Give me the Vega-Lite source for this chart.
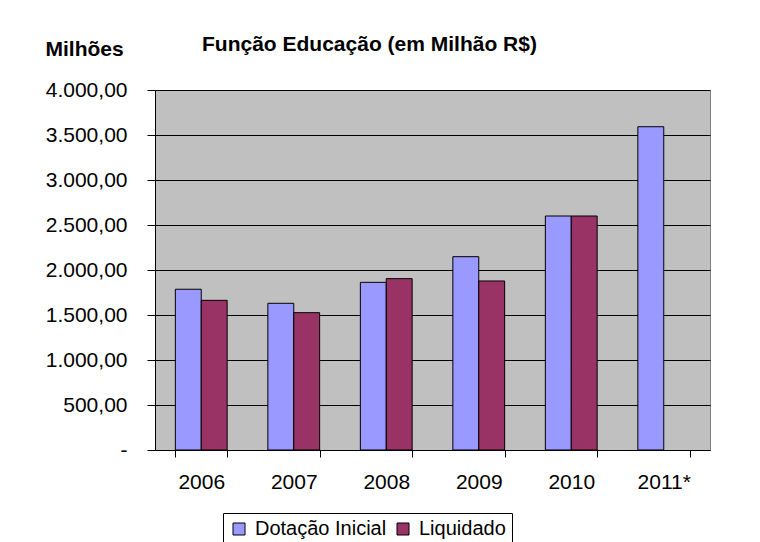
{
  "$schema": "https://vega.github.io/schema/vega-lite/v6.json",
  "width": 555,
  "height": 360,
  "autosize": {"type": "none"},
  "padding": {"left": 155, "top": 90, "right": 50, "bottom": 92},
  "background": "white",
  "config": {
    "locale": {"number": {"decimal": ",", "thousands": ".", "grouping": [3], "currency": ["R$", ""]}},
    "font": "Liberation Sans",
    "view": {"fill": "#C0C0C0", "stroke": "#808080", "strokeWidth": 1}
  },
  "title": {
    "text": "Função Educação (em Milhão R$)",
    "anchor": "start",
    "frame": "group",
    "dx": 47,
    "offset": -34,
    "baseline": "alphabetic",
    "font": "Liberation Sans",
    "fontSize": 21,
    "fontWeight": "bold",
    "color": "black"
  },
  "data": {
    "values": [
      {"ano": "2006", "serie": "Dotação Inicial", "valor": 1786},
      {"ano": "2006", "serie": "Liquidado", "valor": 1663},
      {"ano": "2007", "serie": "Dotação Inicial", "valor": 1630},
      {"ano": "2007", "serie": "Liquidado", "valor": 1526},
      {"ano": "2008", "serie": "Dotação Inicial", "valor": 1863},
      {"ano": "2008", "serie": "Liquidado", "valor": 1904},
      {"ano": "2009", "serie": "Dotação Inicial", "valor": 2148},
      {"ano": "2009", "serie": "Liquidado", "valor": 1878},
      {"ano": "2010", "serie": "Dotação Inicial", "valor": 2600},
      {"ano": "2010", "serie": "Liquidado", "valor": 2600},
      {"ano": "2011*", "serie": "Dotação Inicial", "valor": 3592}
    ]
  },
  "mark": {"type": "bar", "stroke": "black", "strokeWidth": 1},
  "encoding": {
    "x": {
      "field": "ano",
      "type": "nominal",
      "sort": null,
      "scale": {"paddingInner": 0.44, "paddingOuter": 0.22},
      "axis": {
        "title": null,
        "labelAngle": 0,
        "labelFontSize": 21,
        "labelColor": "black",
        "labelPadding": 14,
        "tickBand": "extent",
        "tickSize": 7,
        "tickColor": "black",
        "domainColor": "black",
        "grid": false
      }
    },
    "xOffset": {"field": "serie", "type": "nominal", "scale": {"domain": ["Dotação Inicial", "Liquidado"]}},
    "y": {
      "field": "valor",
      "type": "quantitative",
      "scale": {"domain": [0, 4000], "nice": false},
      "axis": {
        "values": [0, 500, 1000, 1500, 2000, 2500, 3000, 3500, 4000],
        "format": ",.2f",
        "labelExpr": "datum.value == 0 ? '-\u00a0\u00a0\u00a0\u00a0\u00a0' : datum.label",
        "labelFontSize": 21,
        "labelColor": "black",
        "labelPadding": 20,
        "tickSize": 8,
        "tickColor": "black",
        "domainColor": "black",
        "grid": true,
        "gridColor": "black",
        "gridWidth": 1,
        "gridOpacity": 1,
        "title": "Milhões",
        "titleAngle": 0,
        "titleAlign": "left",
        "titleBaseline": "alphabetic",
        "titleX": -110,
        "titleY": -35,
        "titleFontSize": 21,
        "titleFontWeight": "bold",
        "titleColor": "black"
      }
    },
    "color": {
      "field": "serie",
      "type": "nominal",
      "scale": {"domain": ["Dotação Inicial", "Liquidado"], "range": ["#9999FF", "#993366"]},
      "legend": {
        "title": null,
        "orient": "none",
        "direction": "horizontal",
        "legendX": 68,
        "legendY": 423,
        "strokeColor": "black",
        "padding": 6,
        "symbolType": "square",
        "symbolSize": 144,
        "symbolStrokeColor": "black",
        "symbolStrokeWidth": 1,
        "symbolOpacity": 1,
        "labelFontSize": 20,
        "labelColor": "black",
        "labelOffset": 6,
        "columnPadding": 6
      }
    }
  }
}
